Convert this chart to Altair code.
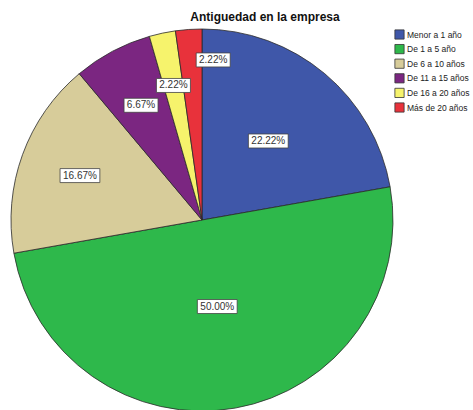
import altair as alt
import pandas as pd

categories = ["Menor a 1 año", "De 1 a 5 año", "De 6 a 10 años",
              "De 11 a 15 años", "De 16 a 20 años", "Más de 20 años"]
percentages = [22.22, 50.00, 16.67, 6.67, 2.22, 2.22]
colors = ["#3F57A9", "#2EB84B", "#D7CC9A", "#7B2681", "#F6F36C", "#E8323B"]
title_text = "Antiguedad en la empresa"

df = pd.DataFrame({"cat": categories, "pct": percentages, "i": list(range(len(categories)))})

CX, CY, R = 202, 220, 191
W, H = 473, 410

base = alt.Chart(df)

pie = base.mark_arc(outerRadius=R, stroke="#2a2a2a", strokeWidth=0.8).encode(
    theta=alt.Theta("pct:Q", stack=True),
    order=alt.Order("i:Q", sort="ascending"),
    color=alt.Color(
        "cat:N",
        scale=alt.Scale(domain=categories, range=colors),
        sort=categories,
        legend=alt.Legend(
            orient="none", legendX=394, legendY=29, title=None,
            symbolType="square", symbolSize=85, symbolStrokeColor="#333333",
            symbolStrokeWidth=0.8, symbolOpacity=1,
            labelFontSize=8.5, labelFont="Liberation Sans", labelColor="#222222",
            rowPadding=1.6, labelOffset=2, labelLimit=120,
        ),
    ),
    x=alt.value(CX),
    y=alt.value(CY),
)

labels_base = base.transform_joinaggregate(
    total="sum(pct)"
).transform_window(
    cum="sum(pct)", sort=[alt.SortField("i", order="ascending")]
).transform_calculate(
    mid="(datum.cum - datum.pct/2) / datum.total * 360",
    ang="datum.pct < 5 && datum.i == 5 ? datum.cum / datum.total * 360 + 4 : datum.mid",
    fr="datum.pct >= 40 ? 0.46 : (datum.pct >= 20 ? 0.54 : (datum.pct >= 5 ? 0.68 : (datum.i == 5 ? 0.84 : 0.72)))",
    lx=f"{CX} + datum.fr * {R} * sin(datum.ang * PI / 180)",
    ly=f"{CY} - datum.fr * {R} * cos(datum.ang * PI / 180)",
    lab="format(datum.pct, '.2f') + '%'",
    bw="length(datum.lab) * 5.8 + 5",
    x1="datum.lx - datum.bw / 2",
    x2="datum.lx + datum.bw / 2",
    y1="datum.ly - 7",
    y2="datum.ly + 7",
)

boxes = labels_base.mark_rect(fill="white", stroke="#444444", strokeWidth=0.8).encode(
    x=alt.X("x1:Q", scale=None, axis=None),
    x2="x2:Q",
    y=alt.Y("y1:Q", scale=None, axis=None),
    y2="y2:Q",
)

texts = labels_base.mark_text(
    fontSize=10, font="Liberation Sans", color="#333333", baseline="middle", align="center"
).encode(
    x=alt.X("lx:Q", scale=None, axis=None),
    y=alt.Y("ly:Q", scale=None, axis=None),
    text="lab:N",
)

title = alt.Chart(pd.DataFrame({"t": [title_text]})).mark_text(
    fontSize=12, fontWeight="bold", font="Liberation Sans", color="#111111",
    baseline="middle", align="center"
).encode(
    x=alt.value(265), y=alt.value(17), text="t:N"
)

chart = alt.layer(pie, boxes, texts, title).properties(
    width=W, height=H,
    autosize=alt.AutoSizeParams(type="none"),
    padding=0,
    background="white",
).configure_view(stroke=None)

chart.save("out.html", embed_options={"renderer": "svg", "actions": False})
